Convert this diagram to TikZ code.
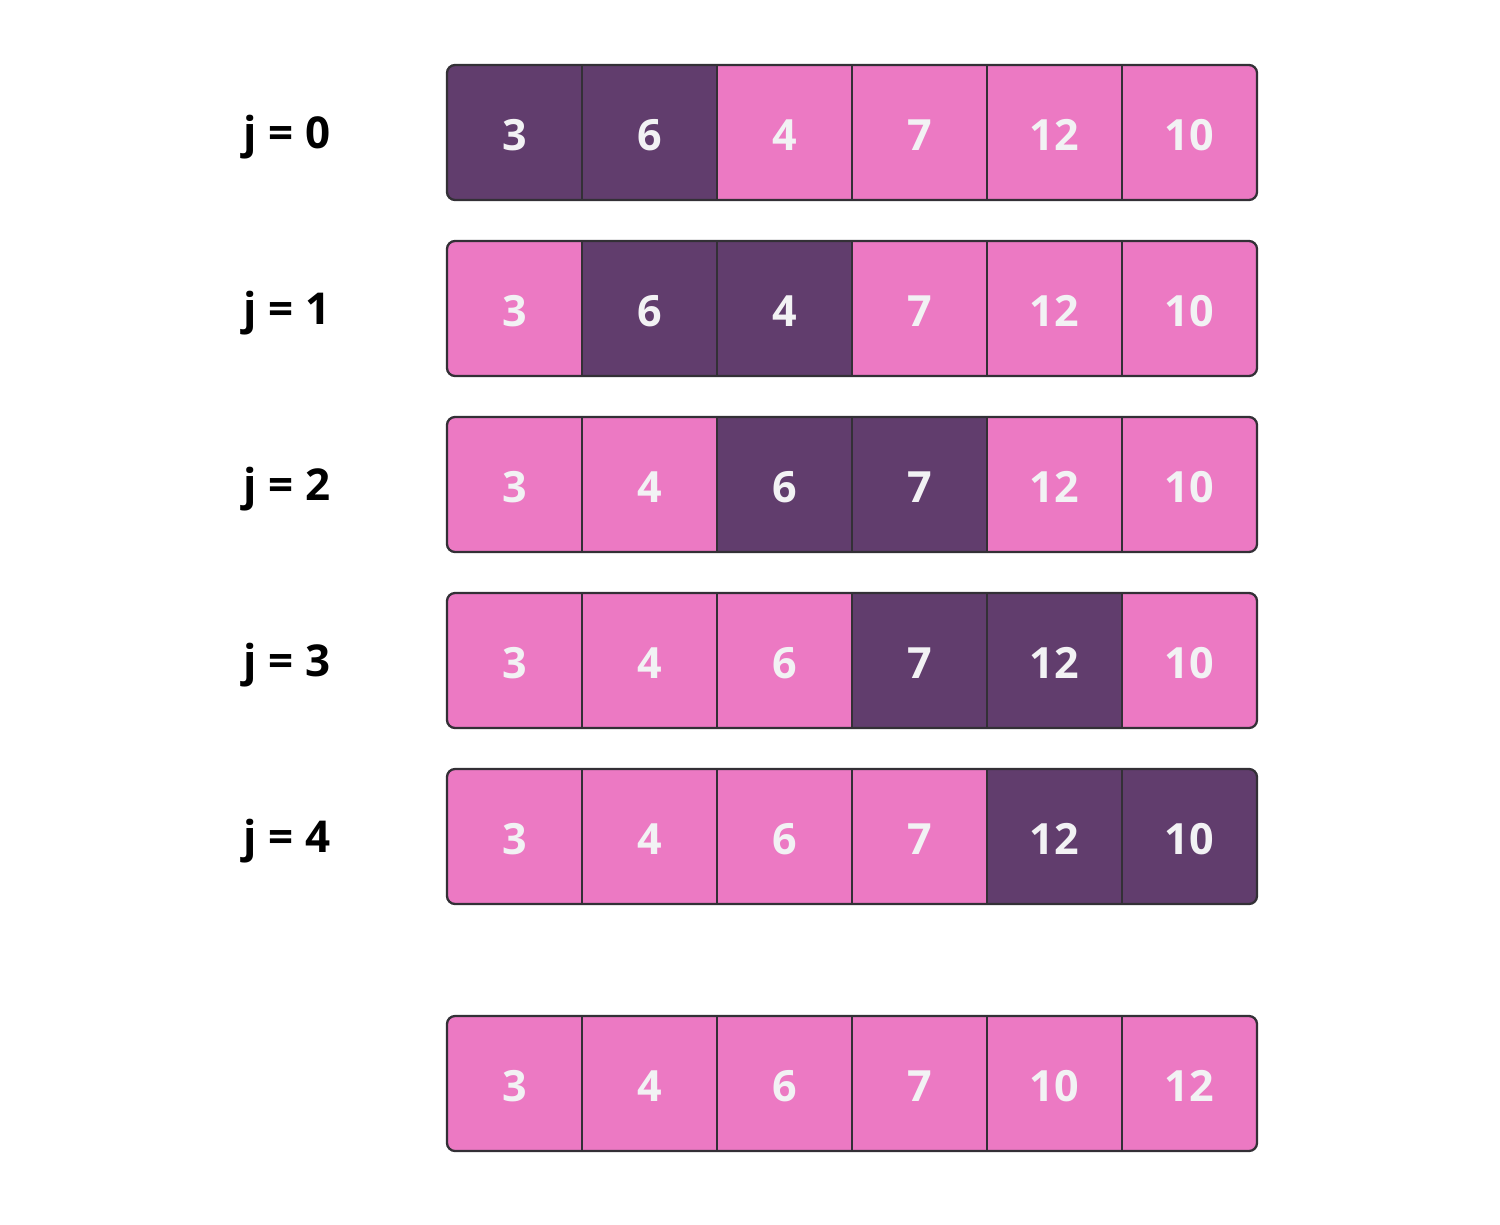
\documentclass[tikz,border=0pt]{standalone}
\usepackage{fontspec}
\setmainfont{Open Sans}
\usetikzlibrary{positioning}

\definecolor{darkcell}{HTML}{613D6D}
\definecolor{pinkcell}{HTML}{EC79C3}
\definecolor{edge}{HTML}{333036}
\definecolor{digit}{HTML}{F2F2F4}

\tikzset{
  cell/.style={draw=edge, line width=1.3pt, minimum width=2.7cm, minimum height=2.7cm,
    inner sep=0pt},
  num/.style={anchor=base, inner sep=0pt, text=digit, font=\bfseries\fontsize{24.5}{24.5}\selectfont},
  jlabel/.style={anchor=base, font=\bfseries\fontsize{25}{25}\selectfont, text=black},
  outline/.style={draw=edge, line width=1.3pt, rounded corners=0.16cm}
}

\begin{document}
\begin{tikzpicture}[x=0.02cm, y=-0.02cm]
  \useasboundingbox (0,0) rectangle (1500,1224);
  % one row per pass of j, the last row is the sorted result
  \foreach \r/\y/\vals in {0/65/{3,6,4,7,12,10}, 1/241/{3,6,4,7,12,10},
      2/417/{3,4,6,7,12,10}, 3/593/{3,4,6,7,12,10}, 4/769/{3,4,6,7,12,10},
      9/1016/{3,4,6,7,10,12}} {
    \begin{scope}
      \clip[rounded corners=0.16cm] (447,\y) rectangle (1257,\y+135);
      \foreach \v [count=\c] in \vals {
        \pgfmathtruncatemacro\isdark{(\c==\r+1 || \c==\r+2) ? 1 : 0}
        \ifnum\isdark=1 \def\cc{darkcell}\else\def\cc{pinkcell}\fi
        \node[cell, fill=\cc] (r\r c\c) at (447+135*\c-67.5, \y+67.5) {};
        \node[num] (v\r c\c) at (447+135*\c-67.5, \y+85) {\v};
      }
    \end{scope}
    \draw[outline] (447,\y) rectangle (1257,\y+135);
  }
  \node[jlabel] (j0) at (287,148) {j = 0};
  \node[jlabel] (j1) at (287,324) {j = 1};
  \node[jlabel] (j2) at (287,500) {j = 2};
  \node[jlabel] (j3) at (287,676) {j = 3};
  \node[jlabel] (j4) at (287,852) {j = 4};
\end{tikzpicture}
\end{document}
